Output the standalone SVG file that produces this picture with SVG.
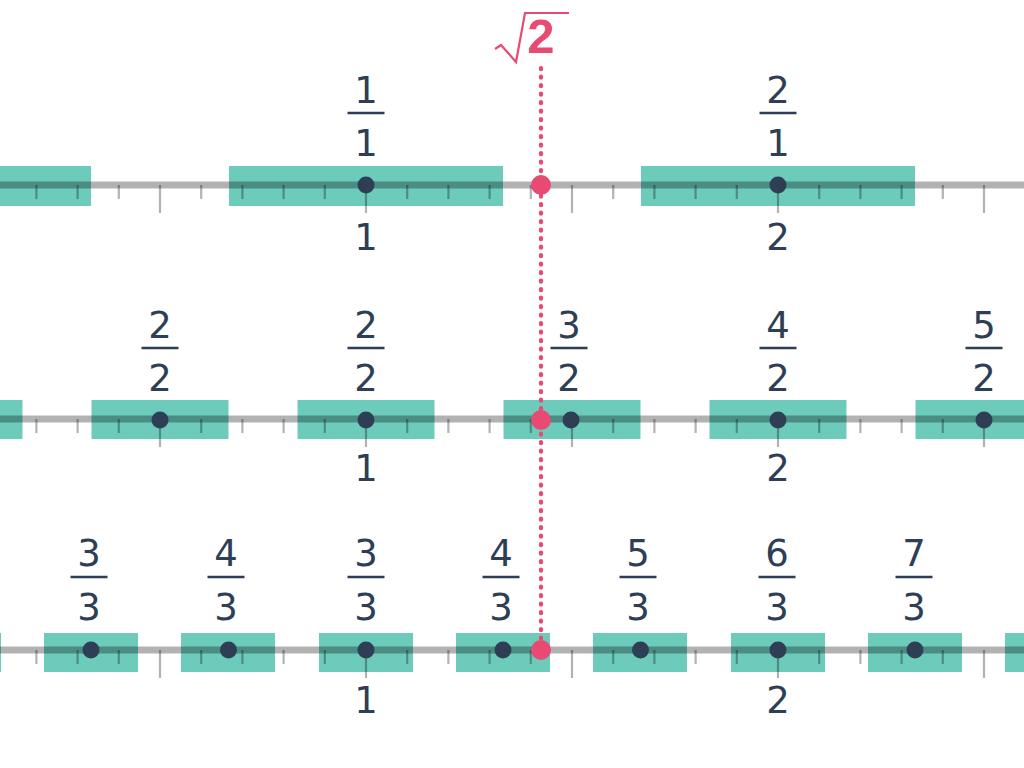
<svg xmlns="http://www.w3.org/2000/svg" xmlns:xlink="http://www.w3.org/1999/xlink" width="1024" height="768" viewBox="0 0 1024 768">
<style>
.box{fill:#6ccbbb}
.axis{stroke:#000;stroke-opacity:0.3;stroke-width:7;fill:none}
.tick{stroke:#000;stroke-opacity:0.3;stroke-width:2.2;fill:none}
.dot{fill:#2d3e55}
.pdot{fill:#e84a73}
.num{font-family:"DejaVu Sans",sans-serif;font-size:37px;fill:#2d3e55;text-anchor:middle}
.bar{stroke:#2d3e55;stroke-width:2.5}
.pink{stroke:#e84a73;fill:none}
</style>
<defs>
<g id="ticks">
<path class="tick" d="M36.4 0v14M77.6 0v14M118.8 0v14M201.2 0v14M242.4 0v14M283.6 0v14M324.8 0v14M407.2 0v14M448.4 0v14M489.6 0v14M530.8 0v14M613.2 0v14M654.4 0v14M695.6 0v14M736.8 0v14M819.2 0v14M860.4 0v14M901.6 0v14M942.8 0v14"/>
<path class="tick" d="M160 0v28M366 0v28M572 0v28M778 0v28M984 0v28"/>
<line class="axis" x1="0" y1="0" x2="1024" y2="0"/>
</g>
</defs>

<!-- Row 1 -->
<g id="row1">
<g id="row1-boxes">
<rect class="box" x="-183" y="166" width="274" height="40"/>
<rect class="box" x="229" y="166" width="274" height="40"/>
<rect class="box" x="641" y="166" width="274" height="40"/>
</g>
<use xlink:href="#ticks" href="#ticks" y="185"/>
</g>
<g id="n-1-1">
<circle class="dot" cx="366" cy="185" r="8.5"/>
<text class="num" x="366" y="103">1</text>
<line class="bar" x1="347.5" y1="113" x2="384.5" y2="113"/>
<text class="num" x="366" y="156">1</text>
</g>
<g id="n-2-1">
<circle class="dot" cx="778" cy="185" r="8.5"/>
<text class="num" x="778" y="103">2</text>
<line class="bar" x1="759.5" y1="113" x2="796.5" y2="113"/>
<text class="num" x="778" y="156">1</text>
</g>
<text class="num" x="366" y="250">1</text>
<text class="num" x="778" y="250">2</text>

<!-- Row 2 -->
<g id="row2">
<g id="row2-boxes">
<rect class="box" x="-114.5" y="400" width="137" height="39"/>
<rect class="box" x="91.5" y="400" width="137" height="39"/>
<rect class="box" x="297.5" y="400" width="137" height="39"/>
<rect class="box" x="503.5" y="400" width="137" height="39"/>
<rect class="box" x="709.5" y="400" width="137" height="39"/>
<rect class="box" x="915.5" y="400" width="137" height="39"/>
</g>
<use xlink:href="#ticks" href="#ticks" y="419"/>
</g>
<g id="n-2-2a">
<circle class="dot" cx="160" cy="420" r="8.5"/>
<text class="num" x="160" y="338">2</text>
<line class="bar" x1="141.5" y1="348" x2="178.5" y2="348"/>
<text class="num" x="160" y="391">2</text>
</g>
<g id="n-2-2b">
<circle class="dot" cx="366" cy="420" r="8.5"/>
<text class="num" x="366" y="338">2</text>
<line class="bar" x1="347.5" y1="348" x2="384.5" y2="348"/>
<text class="num" x="366" y="391">2</text>
</g>
<g id="n-3-2">
<circle class="dot" cx="571" cy="420" r="8.5"/>
<text class="num" x="569" y="338">3</text>
<line class="bar" x1="550.5" y1="348" x2="587.5" y2="348"/>
<text class="num" x="569" y="391">2</text>
</g>
<g id="n-4-2">
<circle class="dot" cx="778" cy="420" r="8.5"/>
<text class="num" x="778" y="338">4</text>
<line class="bar" x1="759.5" y1="348" x2="796.5" y2="348"/>
<text class="num" x="778" y="391">2</text>
</g>
<g id="n-5-2">
<circle class="dot" cx="984" cy="420" r="8.5"/>
<text class="num" x="984" y="338">5</text>
<line class="bar" x1="965.5" y1="348" x2="1002.5" y2="348"/>
<text class="num" x="984" y="391">2</text>
</g>
<text class="num" x="366" y="481">1</text>
<text class="num" x="778" y="481">2</text>

<!-- Row 3 -->
<g id="row3">
<g id="row3-boxes">
<rect class="box" x="-93" y="633" width="94" height="39"/>
<rect class="box" x="44" y="633" width="94" height="39"/>
<rect class="box" x="181" y="633" width="94" height="39"/>
<rect class="box" x="319" y="633" width="94" height="39"/>
<rect class="box" x="456" y="633" width="94" height="39"/>
<rect class="box" x="593" y="633" width="94" height="39"/>
<rect class="box" x="731" y="633" width="94" height="39"/>
<rect class="box" x="868" y="633" width="94" height="39"/>
<rect class="box" x="1005" y="633" width="94" height="39"/>
</g>
<use xlink:href="#ticks" href="#ticks" y="650"/>
</g>
<g id="n-3-3a">
<circle class="dot" cx="91" cy="650" r="8.5"/>
<text class="num" x="89" y="566">3</text>
<line class="bar" x1="70.5" y1="577" x2="107.5" y2="577"/>
<text class="num" x="89" y="620">3</text>
</g>
<g id="n-4-3a">
<circle class="dot" cx="228.5" cy="650" r="8.5"/>
<text class="num" x="226" y="566">4</text>
<line class="bar" x1="207.5" y1="577" x2="244.5" y2="577"/>
<text class="num" x="226" y="620">3</text>
</g>
<g id="n-3-3b">
<circle class="dot" cx="366" cy="650" r="8.5"/>
<text class="num" x="366" y="566">3</text>
<line class="bar" x1="347.5" y1="577" x2="384.5" y2="577"/>
<text class="num" x="366" y="620">3</text>
</g>
<g id="n-4-3b">
<circle class="dot" cx="503" cy="650" r="8.5"/>
<text class="num" x="501" y="566">4</text>
<line class="bar" x1="482.5" y1="577" x2="519.5" y2="577"/>
<text class="num" x="501" y="620">3</text>
</g>
<g id="n-5-3">
<circle class="dot" cx="640.5" cy="650" r="8.5"/>
<text class="num" x="638" y="566">5</text>
<line class="bar" x1="619.5" y1="577" x2="656.5" y2="577"/>
<text class="num" x="638" y="620">3</text>
</g>
<g id="n-6-3">
<circle class="dot" cx="778" cy="650" r="8.5"/>
<text class="num" x="777" y="566">6</text>
<line class="bar" x1="758.5" y1="577" x2="795.5" y2="577"/>
<text class="num" x="777" y="620">3</text>
</g>
<g id="n-7-3">
<circle class="dot" cx="915" cy="650" r="8.5"/>
<text class="num" x="914" y="566">7</text>
<line class="bar" x1="895.5" y1="577" x2="932.5" y2="577"/>
<text class="num" x="914" y="620">3</text>
</g>
<text class="num" x="366" y="713">1</text>
<text class="num" x="778" y="713">2</text>

<!-- sqrt(2) marker -->
<g id="connectors">
<line class="pink" x1="541" y1="68" x2="541" y2="650" stroke-width="4.2" stroke-linecap="round" stroke-dasharray="1.2 7.3"/>
</g>
<g id="sqrt2">
<polyline class="pink" stroke-width="2.2" points="495,49 501,45 516,62 525,13 569,13"/>
<text x="541" y="53" text-anchor="middle" style="font-family:'Liberation Sans',sans-serif;font-size:49px;font-weight:bold;fill:#e84a73">2</text>
<circle class="pdot" cx="541" cy="185" r="10"/>
<circle class="pdot" cx="541" cy="420" r="10"/>
<circle class="pdot" cx="541" cy="650" r="10"/>
</g>
</svg>
